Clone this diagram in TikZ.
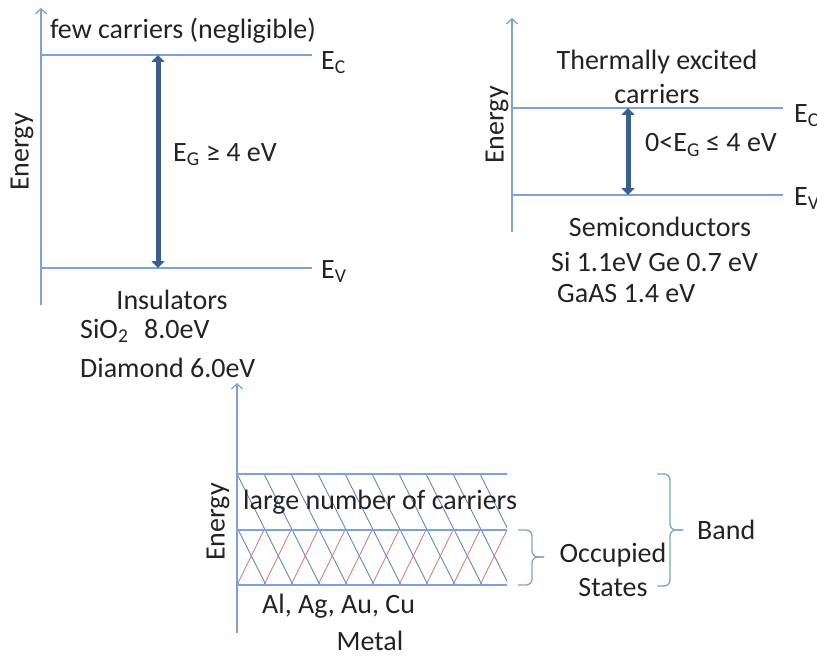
\documentclass[tikz,border=0pt]{standalone}
\usepackage{fontspec}
\setmainfont{Carlito}
\usetikzlibrary{arrows.meta}

\definecolor{axisblue}{RGB}{125,162,212}
\definecolor{gapblue}{RGB}{58,94,143}
\definecolor{hatchblue}{RGB}{95,135,195}
\definecolor{hatchred}{RGB}{222,125,125}
\definecolor{inkgray}{RGB}{35,35,35}

\tikzset{
  energyaxis/.style={draw=axisblue, line width=1.3pt, -{Straight Barb[length=5pt,width=11pt]}},
  levelline/.style={draw=axisblue, line width=1.3pt},
  gaparrow/.style={draw=gapblue, line width=5pt,
    {Triangle[width=13pt,length=7pt]}-{Triangle[width=13pt,length=7pt]}},
  lbl/.style={font=\fontsize{28}{34}\selectfont, text=inkgray, inner sep=0pt},
  bandbrace/.style={draw=axisblue, line width=1.3pt, rounded corners=6pt},
}

\begin{document}
\begin{tikzpicture}[x=1pt, y=-1pt]
    \useasboundingbox (0,0) rectangle (817,658);

    % insulator
    \coordinate (insA0) at (41,305);
    \coordinate (insA1) at (41,8);
    \coordinate (insC0) at (41,55);
    \coordinate (insV0) at (41,268);
    \coordinate (insCg) at (158,55);
    \coordinate (insVg) at (158,268);
    \node[lbl, anchor=west] (insEC) at (321,63) {E\textsubscript{C}};
    \node[lbl, anchor=west] (insEV) at (321,272) {E\textsubscript{V}};
    \draw[energyaxis] (insA0) -- (insA1);
    \draw[levelline] (insC0) -- ([xshift=-9pt]insEC.west |- insC0);
    \draw[levelline] (insV0) -- ([xshift=-9pt]insEV.west |- insV0);
    \draw[gaparrow] (insCg) -- (insVg);
    \node[lbl] (insFew) at (183,31) {few carriers (negligible)};
    \node[lbl, anchor=west] (insGap) at (173,155) {E\textsubscript{G} ≥ 4 eV};
    \node[lbl, rotate=90] (insEn) at (22,152) {Energy};
    \node[lbl] (insName) at (172,300) {Insulators};
    \node[lbl, anchor=west] (insSi) at (80,331) {SiO\textsubscript{2}\,\, 8.0eV};
    \node[lbl, anchor=west] (insDi) at (80,368) {Diamond 6.0eV};

    % semiconductor
    \coordinate (semA0) at (512,232);
    \coordinate (semA1) at (512,18);
    \coordinate (semC0) at (512,108);
    \coordinate (semV0) at (512,195);
    \coordinate (semCg) at (628,108);
    \coordinate (semVg) at (628,195);
    \node[lbl, anchor=west] (semEC) at (794,116) {E\textsubscript{C}};
    \node[lbl, anchor=west] (semEV) at (794,199) {E\textsubscript{V}};
    \draw[energyaxis] (semA0) -- (semA1);
    \draw[levelline] (semC0) -- ([xshift=-11pt]semEC.west |- semC0);
    \draw[levelline] (semV0) -- ([xshift=-11pt]semEV.west |- semV0);
    \draw[gaparrow] (semCg) -- (semVg);
    \node[lbl, align=center] (semTh) at (657,77) {Thermally excited\\carriers};
    \node[lbl, anchor=west] (semGap) at (645,145) {0<E\textsubscript{G} ≤ 4 eV};
    \node[lbl, rotate=90] (semEn) at (497,125) {Energy};
    \node[lbl] (semName) at (660,227) {Semiconductors};
    \node[lbl, anchor=west] (semSi) at (551,262) {Si 1.1eV Ge 0.7 eV};
    \node[lbl, anchor=west] (semGa) at (557,294) {GaAS 1.4 eV};

    % metal
    \coordinate (metA0) at (237,633);
    \coordinate (metA1) at (237,383);
    \coordinate (metT0) at (237,474);
    \coordinate (metT1) at (507,474);
    \coordinate (metM0) at (237,530);
    \coordinate (metM1) at (507,530);
    \coordinate (metB0) at (237,585);
    \coordinate (metB1) at (507,585);
    \begin{scope}
        \clip (metT0) rectangle (metB1);
        \foreach \k in {-3,...,10}
            \draw[hatchblue, line width=0.9pt] ({237+27*\k},474) -- ++(56,111);
        \foreach \k in {-1,...,10}
            \draw[hatchred, line width=0.9pt] ({237+27*\k},585) -- ++(27,-55);
    \end{scope}
    \draw[levelline] (metT0) -- (metT1);
    \draw[levelline] (metM0) -- (metM1);
    \draw[levelline] (metB0) -- (metB1);
    \draw[energyaxis] (metA0) -- (metA1);
    \node[lbl, anchor=west] (metLarge) at (243,502) {large number of carriers};
    \node[lbl, rotate=90] (metEn) at (218,522) {Energy};
    \node[lbl, anchor=west] (metAl) at (262,606) {Al, Ag, Au, Cu};
    \node[lbl] (metName) at (370,641) {Metal};
    \coordinate (occTop) at (518,530);
    \coordinate (occMid) at (532,557);
    \coordinate (occTip) at (544,557);
    \coordinate (occBot) at (518,585);
    \coordinate (bandTop) at (657,474);
    \coordinate (bandMid) at (670,530);
    \coordinate (bandTip) at (683,530);
    \coordinate (bandBot) at (657,586);
    \draw[bandbrace] (occTop) -| (occMid) -- (occTip);
    \draw[bandbrace] (occBot) -| (occMid) -- (occTip);
    \draw[bandbrace] (bandTop) -| (bandMid) -- (bandTip);
    \draw[bandbrace] (bandBot) -| (bandMid) -- (bandTip);
    \node[lbl, align=center] (metOcc) at (613,570) {Occupied\\States};
    \node[lbl, anchor=west] (metBand) at (697,530) {Band};
\end{tikzpicture}
\end{document}
